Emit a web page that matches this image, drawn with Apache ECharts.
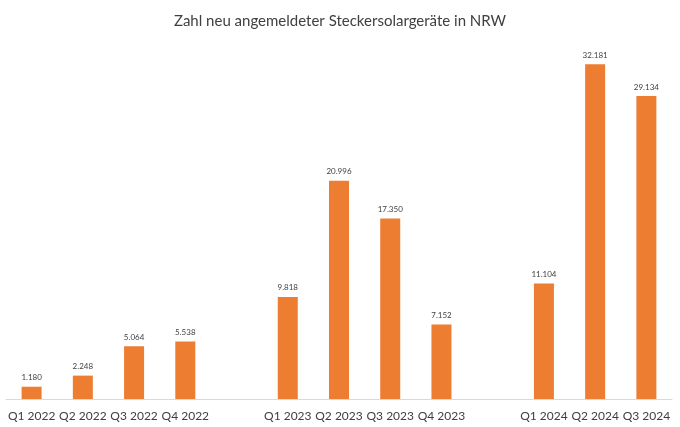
<!DOCTYPE html>
<html>
<head>
<meta charset="utf-8">
<script src="https://cdn.jsdelivr.net/npm/echarts@6/dist/echarts.min.js"></script>
<style>
  html, body { margin: 0; padding: 0; background: #fff; }
  #chart { width: 680px; height: 427px; }
</style>
</head>
<body>
<div id="chart"></div>
<script>
// Quartale, leere Einträge trennen die Jahre
const quarters = ['Q1 2022', 'Q2 2022', 'Q3 2022', 'Q4 2022', '',
  'Q1 2023', 'Q2 2023', 'Q3 2023', 'Q4 2023', '',
  'Q1 2024', 'Q2 2024', 'Q3 2024']
const anmeldungen = [1180, 2248, 5064, 5538, null,
  9818, 20996, 17350, 7152, null,
  11104, 32181, 29134]

const fontFamily = 'Lato, "Liberation Sans", sans-serif'

function formatDe (v) {
  return String(v).replace(/\B(?=(\d{3})+(?!\d))/g, '.')
}

const $chart = echarts.init(document.getElementById('chart'))
$chart.setOption({
  animation: false,
  title: {
    text: 'Zahl neu angemeldeter Steckersolargeräte in NRW',
    left: 'center',
    top: 9,
    textStyle: {
      fontFamily: fontFamily,
      fontSize: 15,
      fontWeight: 'normal',
      color: '#404040'
    }
  },
  grid: {
    left: 6,
    right: 8,
    top: 35,
    bottom: 28
  },
  xAxis: {
    type: 'category',
    data: quarters,
    axisLine: { lineStyle: { color: '#d9d9d9' } },
    axisTick: { show: false },
    axisLabel: {
      interval: 0,
      margin: 11,
      fontFamily: fontFamily,
      fontSize: 12,
      color: '#404040'
    }
  },
  yAxis: {
    type: 'value',
    min: 0,
    max: 35000,
    show: false,
    splitLine: { show: false }
  },
  series: [
    {
      type: 'bar',
      data: anmeldungen,
      barWidth: 20,
      itemStyle: { color: '#ED7D31' },
      label: {
        show: true,
        position: 'top',
        distance: 5,
        fontFamily: fontFamily,
        fontSize: 8,
        color: '#404040',
        formatter: p => formatDe(p.value)
      }
    }
  ]
})
</script>
</body>
</html>
